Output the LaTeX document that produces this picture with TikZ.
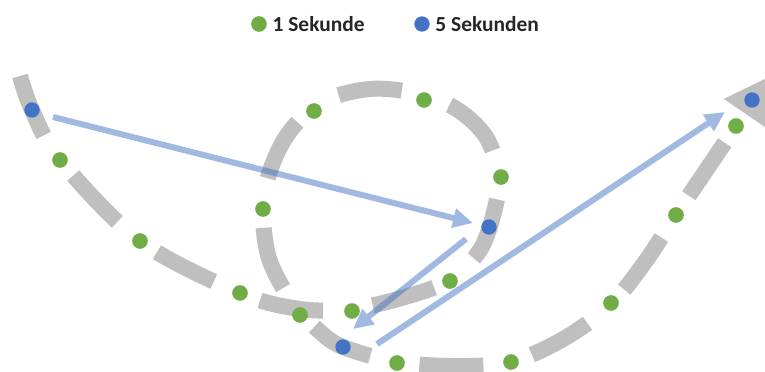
\documentclass[tikz,border=0pt]{standalone}
\usepackage{fontspec}
\setmainfont{Carlito}
\usetikzlibrary{arrows.meta,positioning}
\definecolor{secgreen}{HTML}{70AD47}
\definecolor{fiveblue}{HTML}{4472C4}
\definecolor{track}{HTML}{BFBFBF}
\definecolor{textdark}{HTML}{262626}

\begin{document}
\begin{tikzpicture}[x=0.03cm, y=-0.03cm,
  sec/.style={circle, fill=secgreen, minimum size=0.47cm, inner sep=0pt},
  five/.style={circle, fill=fiveblue, minimum size=0.46cm, inner sep=0pt},
  legendtext/.style={font=\fontsize{18.3}{20}\selectfont\bfseries, text=textdark, inner sep=0pt},
  move/.style={-{Triangle[length=0.6cm, width=0.56cm]}, fiveblue, line width=0.18cm}
]
  \useasboundingbox (0,0) rectangle (765,372);

  % Spur
  \draw[track, line width=0.48cm, dash pattern=on 1.92cm off 1.5cm,
        -{Triangle[length=1.35cm, width=1.41cm]}]
    plot[smooth, tension=0.55] coordinates {
      (20,76) (32,110) (60,160) (140,241) (240,293) (300,309) (352,309)
      (405,297) (450,280) (480,250) (494,212) (499,175) (486,137) (458,110)
      (420,94) (370,89) (320,103) (284,140) (264,195) (268,255) (292,302)
      (318,330) (343,347) (397,362) (455,366) (511,362) (565,338) (611,304)
      (645,262) (676,215) (736,126) (770,76)};

  % Punkte
  \node[five] (b0) at (32,110) {};
  \node[five] (b1) at (489,227) {};
  \node[five] (b2) at (343,347) {};
  \node[five] (b3) at (752,100) {};
  \foreach \p [count=\i] in {(60,160),(140,241),(240,293),(300,315),(352,311),
      (450,281),(501,177),(424,100),(314,111),(263,209),(397,363),(511,362),
      (611,303),(676,215),(736,126)}
    \node[sec] (g\i) at \p {};

  % Bewegung alle 5 Sekunden
  \begin{scope}[transparency group, opacity=0.5]
    \draw[move] ([shift={(21,7)}]b0.center) -- ([shift={(-16,-4)}]b1.center);
    \draw[move] ([shift={(-23,12)}]b1.center) -- ([shift={(10,-18)}]b2.center);
    \draw[move] ([shift={(34,-3)}]b2.center) -- ([shift={(-27,12)}]b3.center);
  \end{scope}

  % Legende
  \node[sec] (lg) at (259,24) {};
  \node[legendtext, right=0.16cm of lg] (lgt) {1 Sekunde};
  \node[five] (lb) at (422,24) {};
  \node[legendtext, right=0.16cm of lb] (lbt) {5 Sekunden};
\end{tikzpicture}
\end{document}
